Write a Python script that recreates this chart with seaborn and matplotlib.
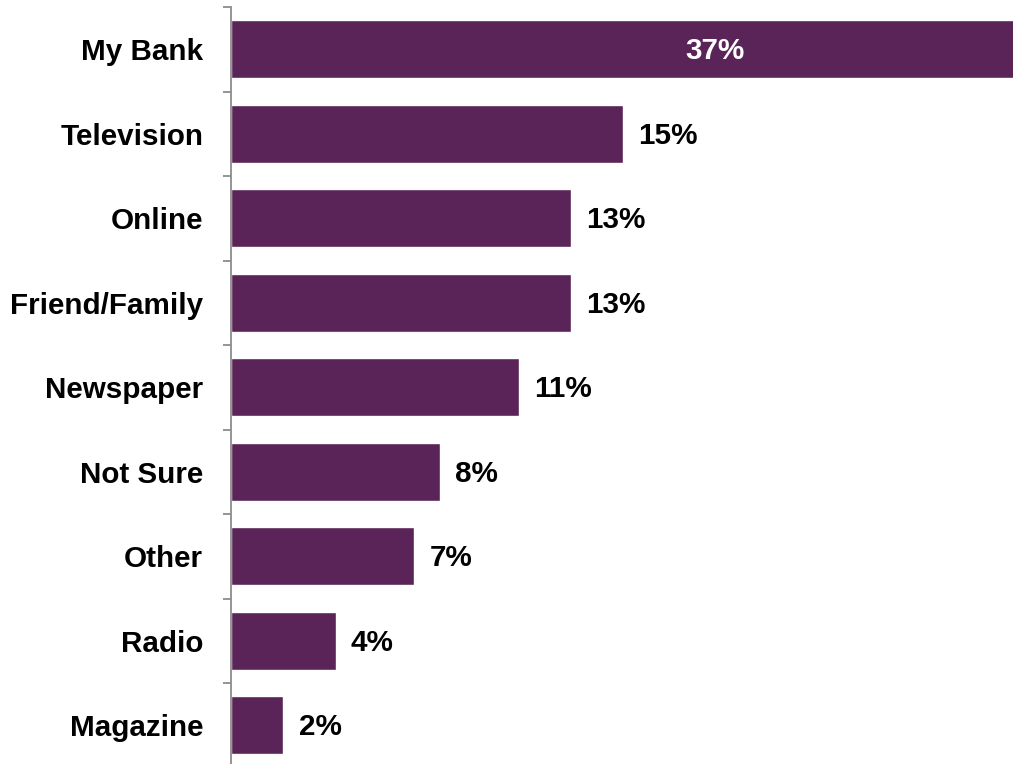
import numpy as np
import pandas as pd
import matplotlib
matplotlib.use("Agg")
import matplotlib.pyplot as plt
import seaborn as sns

# Where respondents heard about it (% of respondents)
sources = ["My Bank", "Television", "Online", "Friend/Family", "Newspaper",
           "Not Sure", "Other", "Radio", "Magazine"]
shares = [37, 15, 13, 13, 11, 8, 7, 4, 2]
share_labels = ["37%", "15%", "13%", "13%", "11%", "8%", "7%", "4%", "2%"]

BAR_COLOR = "#5B2458"
AXIS_GREY = "#8C8C8C"
FS = 21.3

sns.set_theme(style="white")
plt.rcParams["font.family"] = ["Liberation Sans", "DejaVu Sans"]
plt.rcParams["font.weight"] = "bold"

df = pd.DataFrame({"source": sources, "share": shares})

fig = plt.figure(figsize=(10.13, 7.64), dpi=100)
ax = fig.add_axes([0.228, -0.0046, 0.772, 0.9954])

sns.barplot(data=df, x="share", y="source", orient="h", color=BAR_COLOR,
            saturation=1, width=0.69, ax=ax)

ax.set_xlim(0, 29.9)
ax.set_ylim(len(sources) - 0.5, -0.5)

# value labels: the first (clipped) bar gets its label inside, in white
for i, (v, lab) in enumerate(zip(shares, share_labels)):
    if v > ax.get_xlim()[1]:
        ax.annotate(lab, xy=(v / 2, i), xytext=(0, -1.5),
                    textcoords="offset points", ha="center", va="center",
                    color="white", fontsize=FS, fontweight="bold")
    else:
        ax.annotate(lab, xy=(v, i), xytext=(11, -1.5),
                    textcoords="offset points", ha="left", va="center",
                    color="black", fontsize=FS, fontweight="bold")

ax.set_xlabel("")
ax.set_ylabel("")
ax.set_xticks([])
ax.set_yticks(range(len(sources)))
ax.set_yticklabels(sources, fontsize=FS, fontweight="bold", color="black")
ax.set_yticks(np.arange(-0.5, len(sources)), minor=True)
ax.tick_params(axis="y", which="major", length=0, pad=20)
ax.tick_params(axis="y", which="minor", length=6, width=1.3, color=AXIS_GREY,
               left=True)

for side in ["top", "right", "bottom"]:
    ax.spines[side].set_visible(False)
ax.spines["left"].set_color(AXIS_GREY)
ax.spines["left"].set_linewidth(1.3)

fig.savefig("out.png", dpi=100)
